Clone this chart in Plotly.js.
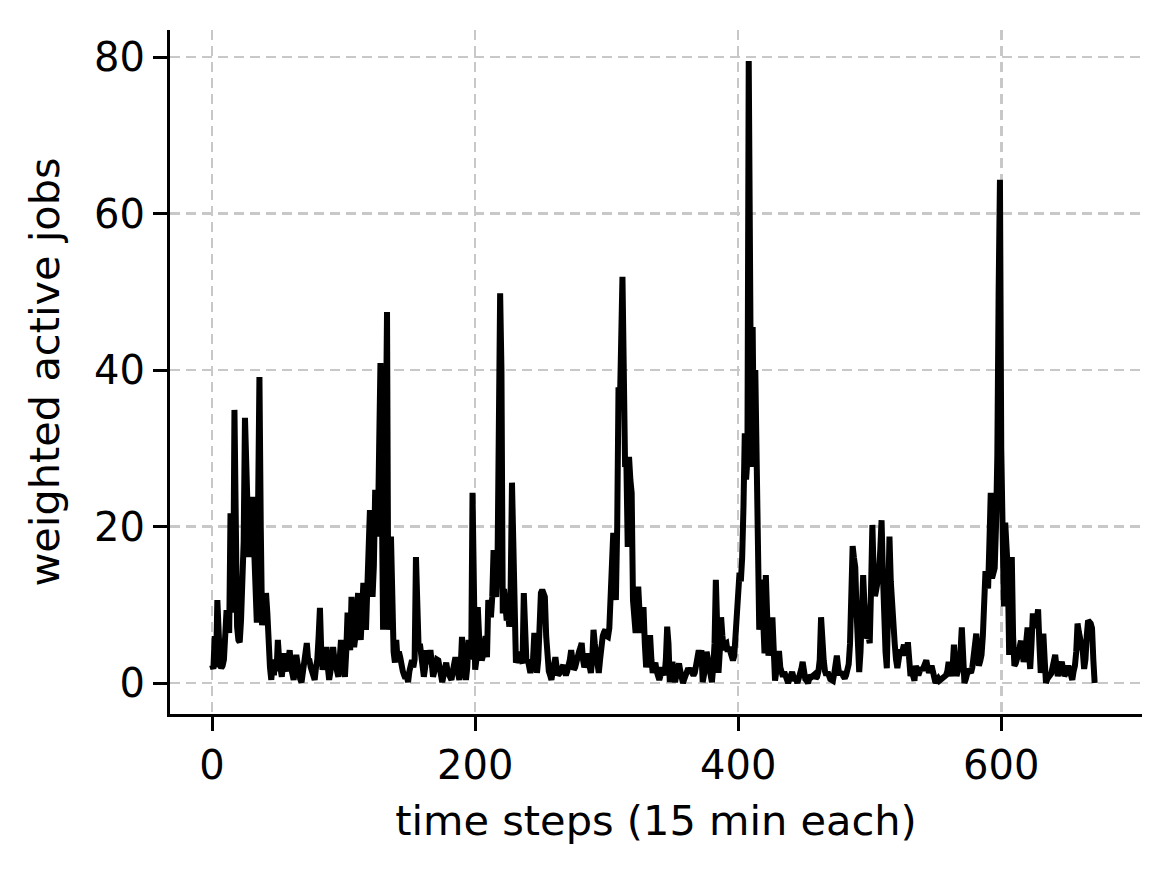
<!DOCTYPE html>
<html>
<head>
<meta charset="utf-8" />
<title>weighted active jobs</title>
<script src="https://cdn.plot.ly/plotly-3.0.1.min.js"></script>
<style>
  body { margin: 0; background: #fff; }
  #plot { width: 1170px; height: 870px; }
</style>
</head>
<body>
<div id="plot"></div>
<script>
// weighted active jobs per 15-minute step
const jobsDay1 = [
  2.3, 1.8, 6, 2, 10.6, 4, 2.5, 1.9, 2.2, 3, 6, 9.3, 8, 6.4, 21.7, 12, 9, 34.9, 9, 7.2,
  5.5, 5.2, 8, 12, 18, 33.9, 28, 22, 16.1, 18, 22, 23.8, 17, 12, 7.7, 23, 39.1, 20, 7.4, 9,
  8, 11.5, 9, 4, 2, 0.4, 2.5, 1, 3, 1.5, 5.5, 3, 1.5, 0.8, 2.5, 3.8, 2, 1.5, 3, 4.2,
  2, 1, 0.4, 2, 3.6, 2.5, 1, 0.5, 0.1, 1.5, 2.5, 3, 5.1, 3, 2.9, 2, 1.2, 0.8, 0.4, 2,
  3, 6, 9.6, 4, 1.7, 2.5, 3.5, 4.6, 2, 0.4, 1.5, 3, 4.6, 3, 2, 1.2
];
const jobsDay2 = [
  0.8, 3, 5.5, 3, 1.5, 0.8, 4, 9, 6, 4.2, 11, 8, 4.6, 6, 9, 11.5, 7, 5.5, 9, 12.8,
  10, 6.8, 12, 17.9, 22.1, 18, 11, 15, 24.7, 22, 18.7, 30, 40.9, 25, 6.8, 40.4, 30, 47.4, 6.8, 12,
  18.7, 10, 4, 2.6, 5.5, 3, 4, 3.3, 2, 1.5, 1, 0.6, 1, 0.1, 1.5, 2, 2.9, 2, 3, 16.1,
  6, 4.6, 5, 3, 2, 0.8, 2, 4.2, 3, 2.5, 4.2, 2, 0.8, 1.5, 2, 3, 2.9, 1.5, 0.8, 0.1,
  1, 2, 2.6, 1.5, 1, 0.4, 0.4, 1.5, 2.5, 3.3, 2, 1, 0.4, 2, 5.9, 3
];
const jobsDay3 = [
  1.5, 0.4, 2, 5.5, 4, 3, 24.3, 5, 1.7, 3, 9.7, 6, 4, 2.9, 3.5, 4.2, 6, 3.3, 10.6, 9,
  8.4, 11, 17, 12, 11, 15, 35, 49.8, 40, 8.9, 12, 10, 8, 9, 7.2, 12, 25.6, 18, 9, 2.6,
  3, 4, 3.3, 3, 2.5, 11.5, 5, 2.6, 3, 2, 1.3, 2, 3, 6.4, 3, 1.3, 3, 11, 11.5, 11.9,
  11, 11, 6, 2, 1.5, 1, 0.4, 1.5, 2.5, 3.3, 2, 1, 1.2, 1.8, 2, 2.3, 1.5, 1, 1.5, 2,
  3, 4.2, 2.5, 1.7, 2, 2.9, 3.5, 4, 4.5, 5.1, 3, 2, 2.5, 3.8, 3, 2
];
const jobsDay4 = [
  1.3, 3, 6.8, 5, 4, 2, 1.3, 3, 5.9, 6, 6.5, 6.8, 6, 5.9, 7, 11.5, 12, 19.2, 14, 10.6,
  20, 37.8, 35, 45, 51.9, 40, 27.6, 28, 17.4, 28.9, 26, 24.3, 10.6, 8, 6.4, 9, 12.3, 9, 6.4, 8,
  9.7, 5, 2, 3, 5, 6.1, 3, 1.3, 2, 2.6, 1.5, 1, 0.4, 1, 2, 1.5, 1, 3, 7.2, 5,
  0.1, 1.5, 2.7, 1, 0.1, 1, 2, 2.5, 1.5, 0.5, 0, 0.5, 1, 1.5, 1.9, 1.5, 1.9, 1.3, 1, 1.3,
  2, 3, 4.2, 3, 4.2, 0.1, 1, 2, 4, 3, 1.5, 0.5, 0.1, 2, 5, 13.2
];
const jobsDay5 = [
  6, 1.3, 4, 8.4, 6, 4.2, 5, 5.1, 4, 4.6, 4, 3.5, 2.9, 3.5, 6, 10.6, 11, 14.1, 13, 16,
  22.5, 31.9, 26, 28.5, 79.5, 60, 27.6, 45.5, 27.6, 40, 30, 13.5, 6.8, 10, 13.2, 8, 3.8, 13.8, 4.1, 3.5,
  5, 6, 8.4, 3, 0.3, 1.5, 2.5, 4.1, 2, 1, 0.8, 1.4, 1, 0.5, 0, 0.5, 1, 1.4, 0.8, 0.3,
  0.5, 0, 0.6, 1, 1.8, 2.7, 1.2, 0.5, 0.3, 0, 0.5, 1, 0.8, 1, 1.1, 0.6, 0.8, 1.5, 3, 8.4,
  4, 2.9, 1.5, 1, 1.4, 0.8, 0.5, 0.4, 0.3, 1.2, 2, 3.5, 2, 1, 1.4, 1
];
const jobsDay6 = [
  0.8, 0.6, 1, 1.5, 2.4, 5, 10, 17.5, 16, 14.8, 9, 4, 1.4, 4, 9, 13.8, 10, 7, 5.7, 6,
  5.1, 12, 20.2, 14, 11.1, 12, 12.7, 14, 17, 20.8, 14, 6.8, 4, 1.9, 8, 18.7, 13, 9, 7.8, 5,
  3, 1.9, 3, 4.3, 3.5, 4, 4.9, 3.5, 4, 5.2, 3, 0.9, 1.5, 1, 0.3, 2.2, 1.5, 1, 1.5, 2,
  1.6, 2.2, 2.6, 2.9, 2, 1.3, 1.8, 2.2, 1.5, 0.8, 0, 0.4, 0.6, 0.3, 0.4, 0.6, 0.8, 0.9, 1, 1.5,
  2.7, 1.5, 0.9, 2, 4.9, 2.5, 0.9, 1.5, 2.5, 4, 7.1, 3, 0, 0.5, 1.2, 1.8
];
const jobsDay7 = [
  1.5, 1.3, 2, 3.5, 4.5, 6.3, 4, 2.2, 2.8, 3.6, 6, 11.2, 14.3, 13, 12.1, 18, 24.3, 13.4, 14, 14.7,
  20, 29, 50, 64.3, 29.9, 18, 9.8, 20.5, 17, 14.3, 3.6, 9, 16.1, 6, 2.2, 2.5, 3.1, 4, 4.5, 5.4,
  4, 2.7, 3.5, 5, 7.1, 4, 1.8, 5, 8.9, 7, 8.5, 8, 9.4, 5, 1.3, 3, 6.3, 3, 0, 0.5,
  0.7, 0.9, 1.2, 2, 2.8, 3.6, 2, 0.9, 1.5, 2, 2.7, 1.8, 0.9, 1.2, 1.5, 2.2, 1.5, 0.8, 0.4, 1.5,
  2.2, 4, 7.6, 6.5, 5.5, 5.4, 4, 1.8, 3, 6, 8, 7.8, 7.6, 7, 3, 0
];

const xTicks = [0, 200, 400, 600];
const yTicks = [0, 20, 40, 60, 80];

const jobs = [].concat(jobsDay1, jobsDay2, jobsDay3, jobsDay4, jobsDay5, jobsDay6, jobsDay7);
const steps = jobs.map((v, i) => i);

const trace = {
  x: steps,
  y: jobs,
  type: 'scatter',
  mode: 'lines',
  line: { color: '#000000', width: 6 },
  hoverinfo: 'skip'
};

const font = { family: 'DejaVu Sans', size: 40, color: '#000000' };
const titleFont = { family: 'DejaVu Sans', size: 41.5, color: '#000000' };

const axisBase = {
  showline: true,
  linecolor: '#000000',
  linewidth: 3,
  mirror: false,
  ticks: 'outside',
  ticklen: 14,
  tickwidth: 3,
  tickcolor: '#000000',
  tickfont: font,
  showgrid: true,
  gridcolor: '#c8c8c8',
  gridwidth: 2.5,
  griddash: '10px,6px',
  zeroline: false
};

const layout = {
  width: 1170,
  height: 870,
  margin: { l: 170, r: 28, t: 30, b: 156 },
  paper_bgcolor: '#ffffff',
  plot_bgcolor: '#ffffff',
  font: font,
  showlegend: false,
  xaxis: Object.assign({}, axisBase, {
    range: [-32, 707],
    tickvals: xTicks,
    title: { text: 'time steps (15 min each)', font: titleFont, standoff: 19 }
  }),
  yaxis: Object.assign({}, axisBase, {
    range: [-3.96, 83.45],
    tickvals: yTicks,
    title: { text: 'weighted active jobs', font: titleFont, standoff: 22 }
  })
};

Plotly.newPlot('plot', [trace], layout, { staticPlot: true });
</script>
</body>
</html>
